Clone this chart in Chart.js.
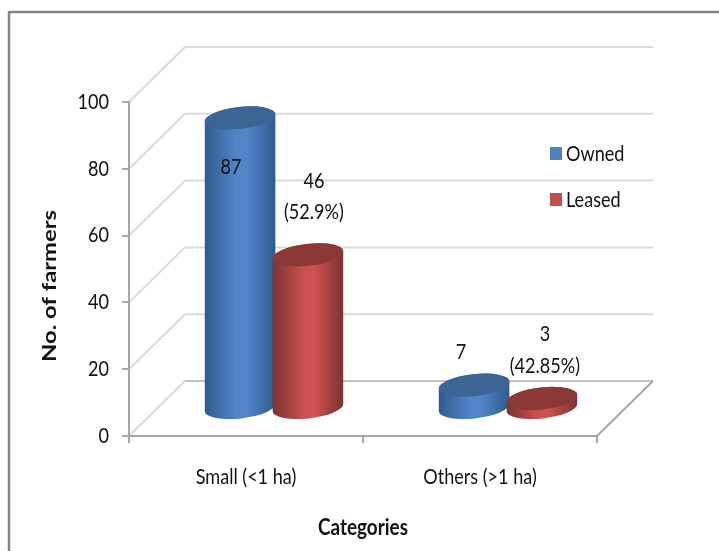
<!DOCTYPE html>
<html>
<head>
<meta charset="utf-8">
<title>Farmers by category</title>
<script src="https://cdn.jsdelivr.net/npm/chart.js@4/dist/chart.umd.min.js"></script>
<style>
  html, body { margin: 0; padding: 0; background: #fff; }
  #wrap { position: relative; width: 719px; height: 551px; }
</style>
</head>
<body>
<div id="wrap"><canvas id="farmersChart"></canvas></div>
<script>
var categories = ['Small (<1 ha)', 'Others (>1 ha)'];
var owned = [87, 7];
var leased = [46, 3];
var ownedNotes = [['87'], ['7']];
var leasedNotes = [['46', '(52.9%)'], ['3', '(42.85%)']];
var yTicks = [0, 20, 40, 60, 80, 100];

var textFont = 'Lato, sans-serif';
var textColor = '#111';
var textSqueeze = 0.86;
var wallDepth = { x: 56, y: 55 };
var barDepth = { x: 28, y: 27.5 };

var blueShades = { edge: '#2f5a8c', mid: '#5285c8', top: '#3c6494' };
var redShades = { edge: '#7a3331', mid: '#cc5150', top: '#8c3836' };

// where each note sits relative to the top of its cylinder
var ownedNoteOffsets = [[{ x: -9, y: 49 }], [{ x: -13, y: -33 }]];
var leasedNoteOffsets = [
  [{ x: 6, y: -74 }, { x: 6, y: -43 }],
  [{ x: 3, y: -64 }, { x: 3, y: -32 }]
];

// all chart text is set a little narrow, there is no condensed face to hand
var canvas = document.getElementById('farmersChart');
var ctx2d = canvas.getContext('2d');
var plainFillText = ctx2d.fillText;
ctx2d.fillText = function(text, x, y) {
  this.save();
  this.translate(x, y);
  this.scale(textSqueeze, 1);
  plainFillText.call(this, text, 0, 0);
  this.restore();
};

function line(ctx, x1, y1, x2, y2, color, width) {
  ctx.strokeStyle = color;
  ctx.lineWidth = width;
  ctx.beginPath();
  ctx.moveTo(x1, y1);
  ctx.lineTo(x2, y2);
  ctx.stroke();
}

function drawCylinder(ctx, bar, shades) {
  var cx = bar.x + barDepth.x;
  var top = bar.y - barDepth.y;
  var base = bar.base - barDepth.y;
  var rx = 35.5;
  var ry = 11;
  var tilt = -0.11;

  var grad = ctx.createLinearGradient(cx - rx, 0, cx + rx, 0);
  grad.addColorStop(0, shades.edge);
  grad.addColorStop(0.45, shades.mid);
  grad.addColorStop(0.6, shades.mid);
  grad.addColorStop(1, shades.edge);

  ctx.fillStyle = grad;
  ctx.beginPath();
  ctx.ellipse(cx, base, rx, ry, tilt, 0, Math.PI);
  ctx.ellipse(cx, top, rx, ry, tilt, Math.PI, Math.PI * 2);
  ctx.closePath();
  ctx.fill();

  ctx.fillStyle = shades.top;
  ctx.beginPath();
  ctx.ellipse(cx, top, rx, ry, tilt, 0, Math.PI * 2);
  ctx.fill();
}

var scenePlugin = {
  id: 'scene',

  beforeDraw: function(chart) {
    var ctx = chart.ctx;
    var y = chart.scales.y;
    var x = chart.scales.x;
    ctx.save();

    // outer frame, only the top and left edges
    line(ctx, 9, 12, 719, 12, '#858585', 2.5);
    line(ctx, 9, 11, 9, 551, '#858585', 2.5);

    // side wall and back wall lines
    yTicks.forEach(function(t) {
      var py = y.getPixelForValue(t);
      var color = t === 0 ? '#c4c4c4' : '#dadada';
      line(ctx, x.left, py, x.left + wallDepth.x, py - wallDepth.y, '#dadada', 2);
      line(ctx, x.left + wallDepth.x, py - wallDepth.y, x.right + wallDepth.x, py - wallDepth.y, color, 2);
    });

    // right edge of the floor
    var floor = y.getPixelForValue(0);
    line(ctx, x.right, floor, x.right + wallDepth.x, floor - wallDepth.y, '#a6a6a6', 2);
    ctx.restore();
  },

  // cylinders replace the flat bars, owned first so leased overlaps it
  beforeDatasetsDraw: function(chart) {
    chart.getDatasetMeta(0).data.forEach(function(bar) {
      drawCylinder(chart.ctx, bar, blueShades);
    });
    chart.getDatasetMeta(1).data.forEach(function(bar) {
      drawCylinder(chart.ctx, bar, redShades);
    });
    return false;
  },

  afterDraw: function(chart) {
    var ctx = chart.ctx;
    ctx.save();
    ctx.font = '21px ' + textFont;
    ctx.fillStyle = textColor;
    ctx.textAlign = 'center';
    ctx.textBaseline = 'middle';

    chart.data.datasets.forEach(function(ds, d) {
      var notes = d === 0 ? ownedNotes : leasedNotes;
      var offsets = d === 0 ? ownedNoteOffsets : leasedNoteOffsets;
      chart.getDatasetMeta(d).data.forEach(function(bar, i) {
        notes[i].forEach(function(text, n) {
          ctx.fillText(text, bar.x + barDepth.x + offsets[i][n].x, bar.y - barDepth.y + offsets[i][n].y);
        });
      });
    });

    // legend
    ctx.textAlign = 'left';
    chart.data.datasets.forEach(function(ds, d) {
      var ly = 147 + d * 46;
      ctx.fillStyle = ds.backgroundColor;
      ctx.fillRect(550, ly, 12, 13);
      ctx.fillStyle = textColor;
      ctx.fillText(ds.label, 566, ly + 7);
    });

    // y axis title runs long, so it gets its own stretch
    ctx.save();
    ctx.translate(50, 286);
    ctx.rotate(-Math.PI / 2);
    ctx.scale(1.25 / textSqueeze, 1);
    ctx.font = 'bold 19px ' + textFont;
    ctx.textAlign = 'center';
    ctx.fillText('No. of farmers', 0, 0);
    ctx.restore();
    ctx.restore();
  }
};

new Chart(canvas, {
  type: 'bar',
  data: {
    labels: categories,
    datasets: [
      { label: 'Owned', data: owned, backgroundColor: '#4f81bd' },
      { label: 'Leased', data: leased, backgroundColor: '#c0504d' }
    ]
  },
  plugins: [scenePlugin],
  options: {
    responsive: true,
    maintainAspectRatio: false,
    animation: false,
    categoryPercentage: 0.58,
    barPercentage: 1,
    layout: { padding: { top: 102, right: 122, left: 0, bottom: 0 } },
    plugins: {
      legend: { display: false },
      tooltip: { enabled: false }
    },
    scales: {
      x: {
        grid: { drawOnChartArea: false, color: '#a6a6a6', lineWidth: 2, tickLength: 7 },
        border: { color: '#a6a6a6', width: 2 },
        ticks: { color: textColor, font: { family: textFont, size: 21 }, padding: 22, maxRotation: 0 },
        title: {
          display: true,
          text: 'Categories',
          color: textColor,
          font: { family: textFont, size: 22, weight: 'bold' },
          padding: { top: 0, bottom: 10 }
        },
        afterFit: function(scale) { scale.height = 115; }
      },
      y: {
        min: 0,
        max: 100,
        grid: { drawOnChartArea: false, color: '#a6a6a6', lineWidth: 2, tickLength: 7 },
        border: { color: '#a6a6a6', width: 2 },
        ticks: {
          color: textColor,
          stepSize: 20,
          padding: 13,
          font: { family: textFont, size: 21 }
        },
        afterFit: function(scale) { scale.width = 129; }
      }
    }
  }
});
</script>
</body>
</html>
